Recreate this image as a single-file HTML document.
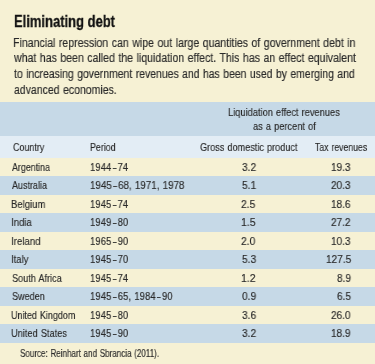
<!DOCTYPE html><html><head><meta charset="utf-8"><style>
html,body{margin:0;padding:0}
body{width:375px;height:364px;overflow:hidden;position:relative;background:#F6F1D4;font-family:"Liberation Sans",sans-serif}
.b{position:absolute;left:0;width:375px}
.t{position:absolute;white-space:nowrap;transform-origin:0 0;will-change:transform;-webkit-text-stroke:0.15px currentColor}
.d{display:inline-block;transform:scaleX(0.70);margin:0 0.50px}
</style></head><body style="color:#2a2a2a">

<div class="b" style="top:102px;height:34px;background:#C6D9E7"></div>
<div class="b" style="top:136px;height:21.5px;background:#E3EDF5"></div>
<div class="b" style="top:176.00px;height:18.50px;background:#C6D9E7"></div>
<div class="b" style="top:213.00px;height:18.50px;background:#C6D9E7"></div>
<div class="b" style="top:250.00px;height:18.50px;background:#C6D9E7"></div>
<div class="b" style="top:287.00px;height:18.50px;background:#C6D9E7"></div>
<div class="b" style="top:324.00px;height:18.50px;background:#C6D9E7"></div>
<div class="t" style="left:13.74px;top:13.83px;font-size:15.80px;line-height:15.80px;font-weight:bold;-webkit-text-stroke:0.3px currentColor;color:#111111;transform:scaleX(0.8220);">Eliminating debt</div>
<div class="t" style="left:13.14px;top:36.59px;font-size:12.30px;line-height:12.30px;transform:scaleX(0.8601);word-spacing:0.65px;">Financial repression can wipe out large quantities of government debt in</div>
<div class="t" style="left:14.02px;top:52.34px;font-size:12.30px;line-height:12.30px;transform:scaleX(0.8588);word-spacing:0.65px;">what has been called the liquidation effect. This has an effect equivalent</div>
<div class="t" style="left:13.85px;top:68.09px;font-size:12.30px;line-height:12.30px;transform:scaleX(0.8485);word-spacing:0.65px;">to increasing government revenues and has been used by emerging and</div>
<div class="t" style="left:13.57px;top:83.84px;font-size:12.30px;line-height:12.30px;transform:scaleX(0.8534);word-spacing:0.65px;">advanced economies.</div>
<div class="t" style="left:228.15px;top:107.15px;font-size:11.40px;line-height:11.40px;transform:scaleX(0.8152);word-spacing:0.60px;">Liquidation effect revenues</div>
<div class="t" style="left:252.71px;top:121.15px;font-size:11.40px;line-height:11.40px;transform:scaleX(0.8128);word-spacing:0.60px;">as a percent of</div>
<div class="t" style="left:12.95px;top:142.25px;font-size:11.40px;line-height:11.40px;transform:scaleX(0.7827);word-spacing:0.60px;">Country</div>
<div class="t" style="left:90.28px;top:142.25px;font-size:11.40px;line-height:11.40px;transform:scaleX(0.7789);word-spacing:0.60px;">Period</div>
<div class="t" style="left:200.46px;top:142.25px;font-size:11.40px;line-height:11.40px;transform:scaleX(0.8026);word-spacing:0.60px;">Gross domestic product</div>
<div class="t" style="left:314.51px;top:142.25px;font-size:11.40px;line-height:11.40px;transform:scaleX(0.7631);word-spacing:0.60px;">Tax revenues</div>
<div class="t" style="left:11.90px;top:161.95px;font-size:11.40px;line-height:11.40px;transform:scaleX(0.7787);word-spacing:0.60px;">Argentina</div>
<div class="t" style="left:90.49px;top:161.95px;font-size:11.40px;line-height:11.40px;transform:scaleX(0.8412);word-spacing:0.60px;">1944<span class="d">–</span>74</div>
<div class="t" style="left:241.57px;top:161.95px;font-size:11.40px;line-height:11.40px;transform:scaleX(0.8956);word-spacing:0.60px;">3.2</div>
<div class="t" style="left:331.25px;top:161.95px;font-size:11.40px;line-height:11.40px;transform:scaleX(0.8825);word-spacing:0.60px;">19.3</div>
<div class="t" style="left:11.90px;top:180.45px;font-size:11.40px;line-height:11.40px;transform:scaleX(0.7887);word-spacing:0.60px;">Australia</div>
<div class="t" style="left:90.47px;top:180.45px;font-size:11.40px;line-height:11.40px;transform:scaleX(0.8589);word-spacing:0.60px;">1945<span class="d">–</span>68, 1971, 1978</div>
<div class="t" style="left:241.54px;top:180.45px;font-size:11.40px;line-height:11.40px;transform:scaleX(0.8971);word-spacing:0.60px;">5.1</div>
<div class="t" style="left:331.25px;top:180.45px;font-size:11.40px;line-height:11.40px;transform:scaleX(0.8825);word-spacing:0.60px;">20.3</div>
<div class="t" style="left:11.13px;top:198.95px;font-size:11.40px;line-height:11.40px;transform:scaleX(0.8349);word-spacing:0.60px;">Belgium</div>
<div class="t" style="left:90.49px;top:198.95px;font-size:11.40px;line-height:11.40px;transform:scaleX(0.8412);word-spacing:0.60px;">1945<span class="d">–</span>74</div>
<div class="t" style="left:241.41px;top:198.95px;font-size:11.40px;line-height:11.40px;transform:scaleX(0.9030);word-spacing:0.60px;">2.5</div>
<div class="t" style="left:331.25px;top:198.95px;font-size:11.40px;line-height:11.40px;transform:scaleX(0.8825);word-spacing:0.60px;">18.6</div>
<div class="t" style="left:11.01px;top:217.45px;font-size:11.40px;line-height:11.40px;transform:scaleX(0.8448);word-spacing:0.60px;">India</div>
<div class="t" style="left:90.48px;top:217.45px;font-size:11.40px;line-height:11.40px;transform:scaleX(0.8435);word-spacing:0.60px;">1949<span class="d">–</span>80</div>
<div class="t" style="left:241.12px;top:217.45px;font-size:11.40px;line-height:11.40px;transform:scaleX(0.9217);word-spacing:0.60px;">1.5</div>
<div class="t" style="left:331.32px;top:217.45px;font-size:11.40px;line-height:11.40px;transform:scaleX(0.8825);word-spacing:0.60px;">27.2</div>
<div class="t" style="left:11.01px;top:235.95px;font-size:11.40px;line-height:11.40px;transform:scaleX(0.8459);word-spacing:0.60px;">Ireland</div>
<div class="t" style="left:90.48px;top:235.95px;font-size:11.40px;line-height:11.40px;transform:scaleX(0.8435);word-spacing:0.60px;">1965<span class="d">–</span>90</div>
<div class="t" style="left:241.40px;top:235.95px;font-size:11.40px;line-height:11.40px;transform:scaleX(0.9030);word-spacing:0.60px;">2.0</div>
<div class="t" style="left:331.25px;top:235.95px;font-size:11.40px;line-height:11.40px;transform:scaleX(0.8825);word-spacing:0.60px;">10.3</div>
<div class="t" style="left:11.03px;top:254.45px;font-size:11.40px;line-height:11.40px;transform:scaleX(0.8312);word-spacing:0.60px;">Italy</div>
<div class="t" style="left:90.48px;top:254.45px;font-size:11.40px;line-height:11.40px;transform:scaleX(0.8435);word-spacing:0.60px;">1945<span class="d">–</span>70</div>
<div class="t" style="left:241.51px;top:254.45px;font-size:11.40px;line-height:11.40px;transform:scaleX(0.8970);word-spacing:0.60px;">5.3</div>
<div class="t" style="left:325.62px;top:254.45px;font-size:11.40px;line-height:11.40px;transform:scaleX(0.8825);word-spacing:0.60px;">127.5</div>
<div class="t" style="left:11.50px;top:272.95px;font-size:11.40px;line-height:11.40px;transform:scaleX(0.8006);word-spacing:0.60px;">South Africa</div>
<div class="t" style="left:90.49px;top:272.95px;font-size:11.40px;line-height:11.40px;transform:scaleX(0.8412);word-spacing:0.60px;">1945<span class="d">–</span>74</div>
<div class="t" style="left:241.17px;top:272.95px;font-size:11.40px;line-height:11.40px;transform:scaleX(0.9220);word-spacing:0.60px;">1.2</div>
<div class="t" style="left:336.88px;top:272.95px;font-size:11.40px;line-height:11.40px;transform:scaleX(0.8825);word-spacing:0.60px;">8.9</div>
<div class="t" style="left:11.50px;top:291.45px;font-size:11.40px;line-height:11.40px;transform:scaleX(0.7960);word-spacing:0.60px;">Sweden</div>
<div class="t" style="left:90.48px;top:291.45px;font-size:11.40px;line-height:11.40px;transform:scaleX(0.8465);word-spacing:0.60px;">1945<span class="d">–</span>65, 1984<span class="d">–</span>90</div>
<div class="t" style="left:241.55px;top:291.45px;font-size:11.40px;line-height:11.40px;transform:scaleX(0.8955);word-spacing:0.60px;">0.9</div>
<div class="t" style="left:336.83px;top:291.45px;font-size:11.40px;line-height:11.40px;transform:scaleX(0.8825);word-spacing:0.60px;">6.5</div>
<div class="t" style="left:11.21px;top:309.95px;font-size:11.40px;line-height:11.40px;transform:scaleX(0.7878);word-spacing:0.60px;">United Kingdom</div>
<div class="t" style="left:90.48px;top:309.95px;font-size:11.40px;line-height:11.40px;transform:scaleX(0.8435);word-spacing:0.60px;">1945<span class="d">–</span>80</div>
<div class="t" style="left:241.54px;top:309.95px;font-size:11.40px;line-height:11.40px;transform:scaleX(0.8955);word-spacing:0.60px;">3.6</div>
<div class="t" style="left:331.21px;top:309.95px;font-size:11.40px;line-height:11.40px;transform:scaleX(0.8825);word-spacing:0.60px;">26.0</div>
<div class="t" style="left:11.19px;top:328.45px;font-size:11.40px;line-height:11.40px;transform:scaleX(0.8115);word-spacing:0.60px;">United States</div>
<div class="t" style="left:90.48px;top:328.45px;font-size:11.40px;line-height:11.40px;transform:scaleX(0.8435);word-spacing:0.60px;">1945<span class="d">–</span>90</div>
<div class="t" style="left:241.57px;top:328.45px;font-size:11.40px;line-height:11.40px;transform:scaleX(0.8956);word-spacing:0.60px;">3.2</div>
<div class="t" style="left:331.27px;top:328.45px;font-size:11.40px;line-height:11.40px;transform:scaleX(0.8825);word-spacing:0.60px;">18.9</div>
<div class="t" style="left:19.94px;top:348.77px;font-size:10.20px;line-height:10.20px;transform:scaleX(0.7912);word-spacing:0.54px;">Source: Reinhart and Sbrancia (2011).</div>
</body></html>
